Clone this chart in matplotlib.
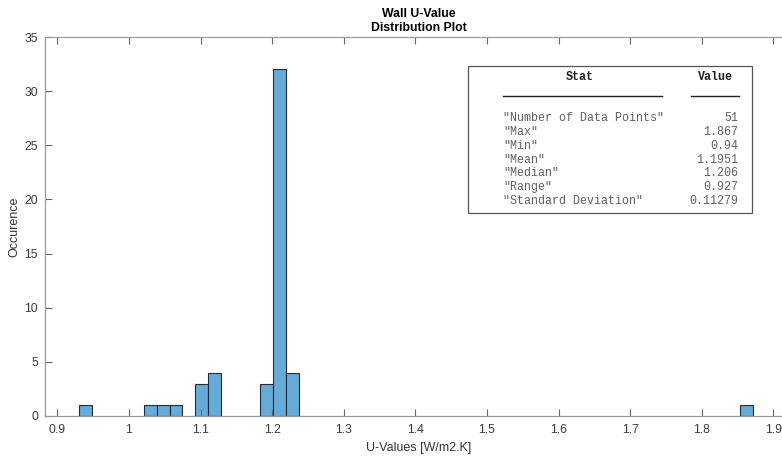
import matplotlib
matplotlib.use("Agg")
import matplotlib.pyplot as plt
import numpy as np

# histogram bins (left edges, equal width) and counts
bin_width = 0.0181
bin_left = [0.93, 1.0205, 1.0386, 1.0567, 1.0929, 1.1110, 1.1834, 1.2015, 1.2196, 1.8531]
counts = [1, 1, 1, 1, 3, 4, 3, 32, 4, 1]

x_ticks = [0.9, 1.0, 1.1, 1.2, 1.3, 1.4, 1.5, 1.6, 1.7, 1.8, 1.9]
x_tick_labels = ["0.9", "1", "1.1", "1.2", "1.3", "1.4", "1.5", "1.6", "1.7", "1.8", "1.9"]
y_ticks = [0, 5, 10, 15, 20, 25, 30, 35]

stat_names = ['"Number of Data Points"', '"Max"', '"Min"', '"Mean"',
              '"Median"', '"Range"', '"Standard Deviation"']
stat_values = ["51", "1.867", "0.94", "1.1951", "1.206", "0.927", "0.11279"]

W, H = 782, 458
plt.rcParams['font.family'] = ['Liberation Sans', 'DejaVu Sans']

fig = plt.figure(figsize=(W / 100, H / 100), dpi=100)


def fx(x):
    return x / W


def fy(y):
    return 1 - y / H


# axes runs past the right edge of the picture, like the original crop
ax_l, ax_r, ax_t, ax_b = 45, 792, 37, 416
ax = fig.add_axes([fx(ax_l), fy(ax_b), (ax_r - ax_l) / W, (ax_b - ax_t) / H])

ax.bar(bin_left, counts, width=bin_width, align='edge',
       color='#66aad7', edgecolor='#1f2d3d', linewidth=0.8)

ax.set_xlim(0.8828, 1.9261)
ax.set_ylim(0, 35)
ax.set_xticks(x_ticks)
ax.set_xticklabels(x_tick_labels)
ax.set_yticks(y_ticks)

axis_grey = '#9a9a9a'
for s in ax.spines.values():
    s.set_color(axis_grey)
    s.set_linewidth(0.9)
ax.tick_params(direction='in', length=5, width=0.8, color='#666666',
               labelsize=8.8, labelcolor='#3a3a3a', top=True, right=True)
ax.tick_params(axis='x', pad=6)
ax.tick_params(axis='y', pad=5)

ax.set_xlabel("U-Values [W/m2.K]", fontsize=9, color='#333333', labelpad=4)
ax.set_ylabel("Occurence", fontsize=9, color='#333333', labelpad=3)
ax.set_title("Wall U-Value\nDistribution Plot", fontsize=8.8, fontweight='bold',
             pad=4, linespacing=1.25)

# stats box
box = plt.Rectangle((fx(468), fy(213)), (752 - 468) / W, (213 - 66) / H,
                    transform=fig.transFigure, facecolor='white',
                    edgecolor='#555555', linewidth=0.9)
fig.add_artist(box)

mono = ['Liberation Mono', 'DejaVu Sans Mono']
fig.text(fx(580), fy(77), "Stat", family=mono, fontsize=8.4, fontweight='bold',
         ha='center', va='center', color='#222222')
fig.text(fx(715), fy(77), "Value", family=mono, fontsize=8.4, fontweight='bold',
         ha='center', va='center', color='#222222')
fig.add_artist(plt.Line2D([fx(503), fx(662)], [fy(96), fy(96)],
                          transform=fig.transFigure, color='#222222', lw=1))
fig.add_artist(plt.Line2D([fx(691), fx(739)], [fy(96), fy(96)],
                          transform=fig.transFigure, color='#222222', lw=1))

for i, (name, val) in enumerate(zip(stat_names, stat_values)):
    y = 118 + 13.85 * i
    fig.text(fx(503), fy(y), name, family=mono, fontsize=8.4, ha='left',
             va='center', color='#606060')
    fig.text(fx(738), fy(y), val, family=mono, fontsize=8.4, ha='right',
             va='center', color='#606060')

fig.savefig("out.png", dpi=100)
